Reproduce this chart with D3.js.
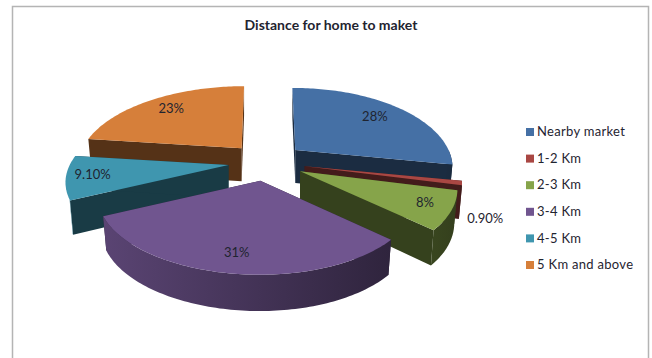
<!DOCTYPE html>
<html>
<head>
<meta charset="utf-8">
<style>
  html, body { margin: 0; padding: 0; background: #fff; }
  svg { display: block; }
  text { font-family: Lato, "Open Sans", sans-serif; fill: #1f2430; }
</style>
</head>
<body>
<svg id="chart" width="652" height="358"></svg>
<script src="https://cdn.jsdelivr.net/npm/d3@7/dist/d3.min.js"></script>
<script>
const chartTitle = "Distance for home to maket";
const categories = ["Nearby market", "1-2 Km", "2-3 Km", "3-4 Km", "4-5 Km", "5 Km and above"];
const shares = [28, 0.9, 8, 31, 9.1, 23];
const shareLabels = ["28%", "0.90%", "8%", "31%", "9.10%", "23%"];
const topColors = ["#4570A5", "#A94743", "#86A44A", "#70558F", "#3F96AF", "#D67F3A"];
// Slices are painted back to front so nearer walls cover farther ones.
const paintOrder = [0, 5, 1, 2, 4, 3];

// Tilted-pie geometry.
const CX = 266, CY = 162;       // pie centre before slices are pulled out
const RX = 156, RY = 74.7;      // radii of the tilted disc
const TILT = 0.205;             // perspective strength along the depth axis
const PULL_X = 38, PULL_Y = 19; // explosion distance
const DEPTH = 33;               // extrusion height
const pullScale = [1, 1.04, 1.02, 1, 1, 0.97];

// Where each slice's label sits: fraction of the radius, then a vertical nudge.
const labelRadius = [0.75, 1.14, 0.84, 0.82, 0.84, 0.77];
const labelNudge = [0, 34, 0, 0, 0, 0];

const svg = d3.select("#chart");
const defs = svg.append("defs");

const arcs = d3.pie().sort(null).value(d => d)(shares);

function project(arc, theta, r, z) {
  const mid = (arc.startAngle + arc.endAngle) / 2;
  const v = -Math.cos(theta) * r;
  const s = 1 / (1 - TILT * v);
  const ax = PULL_X * pullScale[arc.index] * Math.sin(mid);
  const ay = -PULL_Y * pullScale[arc.index] * Math.cos(mid);
  const squeeze = 1 - 0.02 * z;
  const rx = RX * (1 - 0.018 * Math.sin(theta));
  const x = CX + ax * (1 + 0.1 * v) + rx * r * Math.sin(theta) * s * squeeze;
  const y = CY + ay + RY * v * s + z * DEPTH * (1 + 0.1 * v);
  return [x, y];
}

const line = d3.line().curve(d3.curveLinear);
const sampleAngles = (a, b) => {
  const n = Math.max(2, Math.ceil(Math.abs(b - a) / 0.02));
  return d3.range(n + 1).map(i => a + (b - a) * i / n);
};
const shade = (c, k) => d3.rgb(c).darker(k).formatHex();
// Side walls lose light from the left of the pie towards the right.
const wallShade = theta => 1.6 + 1.1 * Math.sin(theta);
// The rim turns out of sight a little before the leftmost point of the disc.
const RIM_END = 245 * Math.PI / 180;

const slices = svg.append("g");

paintOrder.forEach(i => {
  const arc = arcs[i];
  const color = topColors[i];
  const g = slices.append("g");
  const a0 = arc.startAngle, a1 = arc.endAngle;

  // Radial walls
  [a0, a1].forEach(t => {
    g.append("path")
      .attr("d", line([project(arc, t, 0, 0), project(arc, t, 1, 0), project(arc, t, 1, 1), project(arc, t, 0, 1)]) + "Z")
      .attr("fill", shade(color, 2.6));
  });

  // Outer rim, only the part that faces the viewer
  const f0 = Math.max(a0, Math.PI / 2), f1 = Math.min(a1, RIM_END);
  if (f1 > f0) {
    const id = "rim" + i;
    const grad = defs.append("linearGradient").attr("id", id);
    grad.append("stop").attr("offset", 0).attr("stop-color", shade(color, wallShade(f1)));
    grad.append("stop").attr("offset", 1).attr("stop-color", shade(color, wallShade(f0)));
    const angles = sampleAngles(f0, f1);
    const rim = angles.map(t => project(arc, t, 1, 0)).concat(angles.slice().reverse().map(t => project(arc, t, 1, 1)));
    g.append("path").attr("d", line(rim) + "Z").attr("fill", `url(#${id})`);
  }

  // Top face
  const top = [project(arc, a0, 0, 0)].concat(sampleAngles(a0, a1).map(t => project(arc, t, 1, 0)));
  g.append("path").attr("d", line(top) + "Z").attr("fill", color);
});

// Percentage labels
svg.append("g").selectAll("text").data(arcs).join("text")
  .attr("text-anchor", "middle")
  .attr("dominant-baseline", "middle")
  .attr("font-size", 13)
  .each(function (arc, i) {
    const [x, y] = project(arc, (arc.startAngle + arc.endAngle) / 2, labelRadius[i], 0);
    d3.select(this).attr("x", x).attr("y", y + labelNudge[i]);
  })
  .text((d, i) => shareLabels[i]);

// Title
svg.append("text")
  .attr("x", 331).attr("y", 30)
  .attr("text-anchor", "middle")
  .attr("font-size", 14)
  .attr("font-weight", 700)
  .text(chartTitle);

// Legend
const legendY = d3.scalePoint().domain(categories).range([133, 266]);
const legend = svg.append("g").selectAll("g").data(categories).join("g")
  .attr("transform", d => `translate(526,${legendY(d)})`);
legend.append("rect")
  .attr("y", -5).attr("width", 8).attr("height", 8)
  .attr("fill", (d, i) => topColors[i]);
legend.append("text")
  .attr("x", 11)
  .attr("dominant-baseline", "middle")
  .attr("font-size", 13)
  .attr("letter-spacing", 0.3)
  .text(d => d);

// Chart frame, running off the bottom of the page
svg.append("path")
  .attr("d", "M12.5,360V6.5H648.5V360")
  .attr("fill", "none")
  .attr("stroke", "#b4b4b4")
  .attr("stroke-width", 1.5);
</script>
</body>
</html>
